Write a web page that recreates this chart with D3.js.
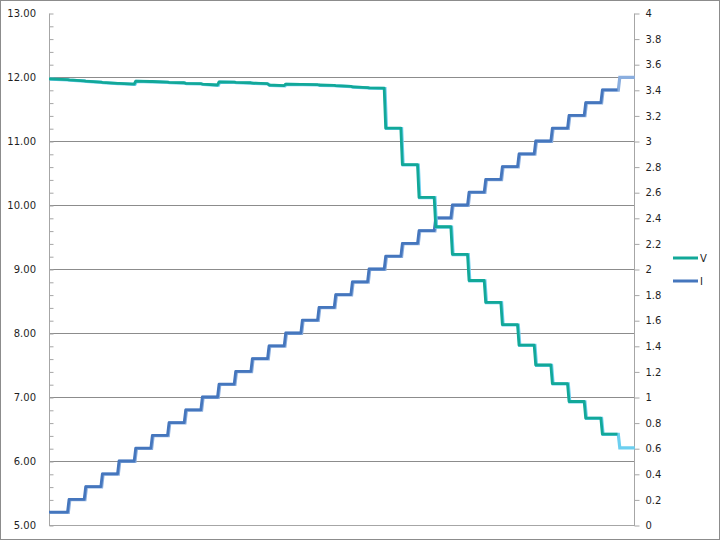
<!DOCTYPE html>
<html>
<head>
<meta charset="utf-8">
<script src="https://cdn.jsdelivr.net/npm/d3@7/dist/d3.min.js"></script>
<style>
  html, body { margin: 0; padding: 0; background: #fff; }
  svg { display: block; font-family: "DejaVu Sans", Verdana, sans-serif; }
</style>
</head>
<body>
<svg id="chart" width="720" height="541"></svg>
<script>
// ---- data ----
// step start times (sample units); each current step lasts until next start
const stepStart = [0, 12, 22, 32, 42, 52, 62, 72, 82, 92, 102, 112, 122, 132, 142, 152, 162, 172, 182, 192,
                   202, 212, 222, 232, 242, 252, 262, 272, 282, 292, 302, 312, 322, 332, 342];
const endTime = 351;
const sampleGap = 0.9; // time between last sample of a step and first of the next
// current (A), right axis
const currentI = [0.1, 0.2, 0.3, 0.4, 0.5, 0.6, 0.7, 0.8, 0.9, 1.0, 1.1, 1.2, 1.3, 1.4, 1.5, 1.6, 1.7, 1.8, 1.9, 2.0,
                  2.1, 2.2, 2.3, 2.4, 2.5, 2.6, 2.7, 2.8, 2.9, 3.0, 3.1, 3.2, 3.3, 3.4, 3.5];
// voltage (V), left axis: value at start and end of each step
const voltStart = [11.97, 11.955, 11.935, 11.915, 11.90, 11.935, 11.93, 11.915, 11.90, 11.89, 11.925, 11.915, 11.905, 11.875, 11.89,
                   11.885, 11.875, 11.865, 11.845, 11.83,
                   11.20, 10.63, 10.12, 9.66, 9.23, 8.82, 8.48, 8.13, 7.81, 7.50, 7.21, 6.93, 6.67, 6.42, 6.21];
const voltEnd   = [11.96, 11.94, 11.92, 11.90, 11.89, 11.93, 11.92, 11.91, 11.895, 11.875, 11.92, 11.91, 11.895, 11.865, 11.885,
                   11.88, 11.87, 11.855, 11.835, 11.825,
                   11.20, 10.63, 10.12, 9.66, 9.23, 8.82, 8.48, 8.13, 7.81, 7.50, 7.21, 6.93, 6.67, 6.42, 6.21];
const leftTicks = [5, 6, 7, 8, 9, 10, 11, 12, 13];
const leftMinor = [5.2, 5.4, 5.6, 5.8, 6.2, 6.4, 6.6, 6.8, 7.2, 7.4, 7.6, 7.8, 8.2, 8.4, 8.6, 8.8, 9.2, 9.4, 9.6, 9.8,
                   10.2, 10.4, 10.6, 10.8, 11.2, 11.4, 11.6, 11.8, 12.2, 12.4, 12.6, 12.8];
const rightTicks = [0, 0.2, 0.4, 0.6, 0.8, 1, 1.2, 1.4, 1.6, 1.8, 2, 2.2, 2.4, 2.6, 2.8, 3, 3.2, 3.4, 3.6, 3.8, 4];
const seriesNames = ["V", "I"];

// ---- layout ----
const colV = "#12a898", colI = "#4576bd";
const colVbg = "#6ccff0", colIbg = "#8aaedf";
const svg = d3.select("#chart");
const L = 49, R = 634, T = 13, B = 525;

svg.append("rect").attr("x", 0.5).attr("y", 0.5).attr("width", 719).attr("height", 539)
  .attr("fill", "#fff").attr("stroke", "#8c8c8c");

const x = d3.scaleLinear().domain([0, endTime]).range([L, R]);
const yL = d3.scaleLinear().domain([5, 13]).range([B, T]);
const yR = d3.scaleLinear().domain([0, 4]).range([B, T]);

// gridlines
svg.append("g").selectAll("line").data(leftTicks.filter(d => d > 5 && d < 13)).join("line")
  .attr("x1", L).attr("x2", R)
  .attr("y1", d => Math.round(yL(d)) + 0.5).attr("y2", d => Math.round(yL(d)) + 0.5)
  .attr("stroke", "#8c8c8c").attr("stroke-width", 1);

// left axis
const axL = d3.axisRight(yL).tickValues(leftTicks.concat(leftMinor)).tickSize(4).tickFormat("");
const gL = svg.append("g").attr("transform", `translate(${L + 0.5},0.5)`).call(axL);
gL.select(".domain").attr("stroke", "#a6a6a6").attr("d", `M0,${T}V${B}`);
gL.selectAll(".tick line").attr("stroke", "#a6a6a6");
svg.append("g").selectAll("text").data(leftTicks).join("text")
  .attr("x", 36).attr("y", d => yL(d)).attr("dy", "0.35em")
  .attr("text-anchor", "end").attr("font-size", 10).attr("fill", "#1f1f1f")
  .text(d => d3.format(".2f")(d));

// right axis
const axR = d3.axisRight(yR).tickValues(rightTicks).tickSize(5).tickPadding(6)
  .tickFormat(d => d3.format("")(+d.toFixed(1)));
const gR = svg.append("g").attr("transform", `translate(${R + 0.5},0.5)`).call(axR);
gR.select(".domain").attr("stroke", "#a6a6a6").attr("d", `M0,${T}V${B}`);
gR.selectAll(".tick line").attr("stroke", "#a6a6a6");
gR.selectAll(".tick text").attr("font-size", 10).attr("fill", "#1f1f1f")
  .attr("font-family", "DejaVu Sans, Verdana, sans-serif");

// bottom axis line
svg.append("line").attr("x1", L).attr("x2", R + 1).attr("y1", B + 0.5).attr("y2", B + 0.5)
  .attr("stroke", "#a6a6a6");

// build step paths
function stepPoints(values, startVals, endVals, n, lastEnd) {
  const pts = [];
  for (let k = 0; k < n; k++) {
    const t0 = stepStart[k];
    const last = !(k + 1 < n);
    const t1 = last ? lastEnd : stepStart[k + 1] - sampleGap;
    pts.push([t0, startVals ? startVals[k] : values[k]]);
    pts.push([t1, endVals ? endVals[k] : values[k]]);
  }
  return pts;
}
const n = stepStart.length;
const vBg = stepPoints(null, voltStart, voltEnd, n, endTime);
const vMain = stepPoints(null, voltStart, voltEnd, n - 1, stepStart[n - 1] - sampleGap);
const iBg = stepPoints(currentI, null, null, n, endTime);
const iMain = stepPoints(currentI, null, null, n - 1, stepStart[n - 1] - sampleGap);

const lineL = d3.line().x(d => x(d[0])).y(d => yL(d[1]));
const lineR = d3.line().x(d => x(d[0])).y(d => yR(d[1]));

svg.append("path").datum(iBg).attr("d", lineR).attr("fill", "none")
  .attr("stroke", colIbg).attr("stroke-width", 3.2).attr("transform", "translate(0.8,0.3)");
svg.append("path").datum(iMain).attr("d", lineR).attr("fill", "none")
  .attr("stroke", colI).attr("stroke-width", 2.8).attr("stroke-linejoin", "round");
svg.append("path").datum(vBg).attr("d", lineL).attr("fill", "none")
  .attr("stroke", colVbg).attr("stroke-width", 3.2).attr("transform", "translate(0.8,0.3)");
svg.append("path").datum(vMain).attr("d", lineL).attr("fill", "none")
  .attr("stroke", colV).attr("stroke-width", 2.8).attr("stroke-linejoin", "round");

// legend
const leg = svg.append("g");
seriesNames.forEach((name, i) => {
  const yy = 258 + i * 23;
  leg.append("line").attr("x1", 673).attr("x2", 698).attr("y1", yy).attr("y2", yy)
    .attr("stroke", i === 0 ? colV : colI).attr("stroke-width", 3);
  leg.append("text").attr("x", 700).attr("y", yy).attr("dy", "0.35em")
    .attr("font-size", 10).attr("fill", "#1f1f1f").text(name);
});
</script>
</body>
</html>
